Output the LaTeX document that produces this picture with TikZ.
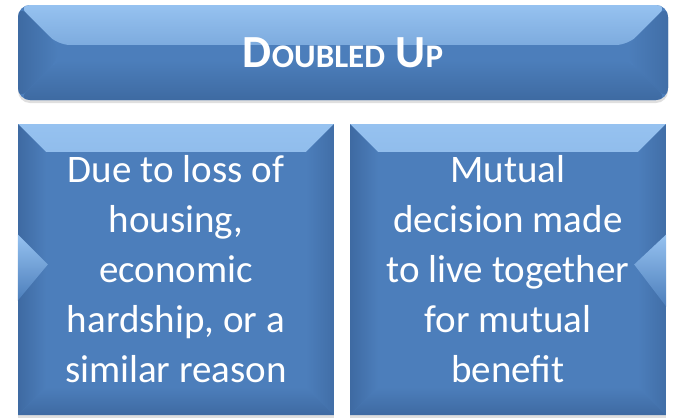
\documentclass[tikz,border=0pt]{standalone}
\usepackage{fontspec}
\setmainfont{Carlito}
\usetikzlibrary{positioning,shadows}

\definecolor{boxblue}{RGB}{76,126,187}
\definecolor{bevlight}{RGB}{150,194,240}
\definecolor{bevdark}{RGB}{62,106,162}

\begin{document}
\begin{tikzpicture}[x=1pt,y=-1pt,
bevel/.style={path picture={
  \shade[top color=bevlight, bottom color=boxblue!80!bevlight]
    (path picture bounding box.north west) -- (path picture bounding box.north east)
    -- ([shift={(-#1,#1)}]path picture bounding box.north east)
    -- ([shift={(#1,#1)}]path picture bounding box.north west) -- cycle;
  \shade[left color=bevdark, right color=boxblue]
    (path picture bounding box.north west) -- ([shift={(#1,#1)}]path picture bounding box.north west)
    -- ([shift={(#1,-#1)}]path picture bounding box.south west)
    -- (path picture bounding box.south west) -- cycle;
  \shade[left color=boxblue, right color=bevdark!80!boxblue]
    (path picture bounding box.north east) -- ([shift={(-#1,#1)}]path picture bounding box.north east)
    -- ([shift={(-#1,-#1)}]path picture bounding box.south east)
    -- (path picture bounding box.south east) -- cycle;
  \shade[top color=boxblue, bottom color=bevdark]
    (path picture bounding box.south west) -- ([shift={(#1,-#1)}]path picture bounding box.south west)
    -- ([shift={(-#1,-#1)}]path picture bounding box.south east)
    -- (path picture bounding box.south east) -- cycle;
  \fill[boxblue] ([shift={(#1,#1)}]path picture bounding box.north west)
    rectangle ([shift={(-#1,-#1)}]path picture bounding box.south east);}},
panel/.style={rectangle, fill=boxblue, draw=none, inner sep=0pt, bevel=28,
  minimum width=316pt, minimum height=291pt, text=white, align=center,
  font=\fontsize{39}{50}\selectfont,
  drop shadow={opacity=0.25, shadow xshift=0pt, shadow yshift=-3pt}},
banner/.style={panel, rounded corners=12pt, bevel=40,
  minimum width=650pt, minimum height=95pt},
notch/.style={top color=bevlight, bottom color=boxblue}]

%% page size
\useasboundingbox (0,0) rectangle (673,418);

%% boxes
\node[banner] (title) at (343,52.5)
  {\bfseries\fontsize{46}{50}\selectfont D{\fontsize{33}{40}\selectfont OUBLED} U{\fontsize{33}{40}\selectfont P}};
\node[panel] (loss) at (176,269.5)
  {Due to loss of\\housing,\\economic\\hardship, or a\\similar reason};
\node[panel] (mutual) at (508,269.5)
  {Mutual\\decision made\\to live together\\for mutual\\benefit};

%% side arrows
\shade[notch] ([shift={(0,-35)}]loss.west) -- ([shift={(30,-5)}]loss.west)
  -- ([shift={(0,31)}]loss.west) -- cycle;
\shade[notch] ([shift={(0,-35)}]mutual.east) -- ([shift={(-32,-5)}]mutual.east)
  -- ([shift={(0,37)}]mutual.east) -- cycle;

\end{tikzpicture}
\end{document}
